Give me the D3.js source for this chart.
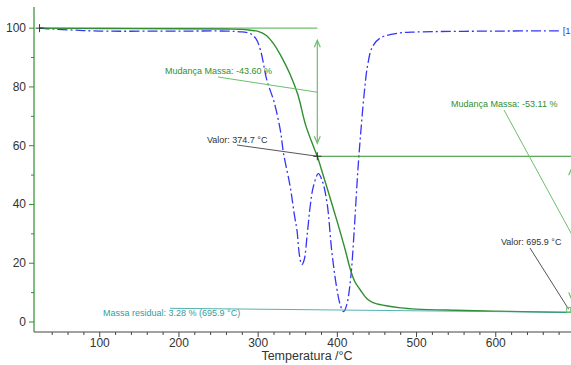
<!DOCTYPE html>
<html><head><meta charset="utf-8">
<script src="https://cdn.jsdelivr.net/npm/d3@7"></script>
<style>
body{margin:0;background:#fff;}
svg{display:block;font-family:"Liberation Sans",Arial,sans-serif;}
</style></head>
<body>
<svg id="c" width="571" height="365"></svg>
<script>
// ---- data ----
const tgTemps = [24,100,200,260,280,290,300,310,320,330,340,350,360,370,374.7,380,390,400,410,416,422,429,437,445,460,480,500,550,600,650,695.9];
const tgMass  = [100,99.9,99.8,99.7,99.6,99.3,98.9,97.6,94.5,90,84.5,77.5,67,59.6,56.4,51.8,43,34,24.5,18.3,13.8,10.9,8.0,6.6,5.6,4.8,4.4,4.0,3.7,3.45,3.28];
const dtgTemps = [24,40,70,100,200,260,280,290,297,303,311,320,328,332,340.5,346,349,352,355,358,362,366,369.6,376,381,387,393,399,404,408,412,417,421,426,430,434,438,444,454,477,500,600,682];
const dtgVals  = [100,99.7,99.3,99.0,99.0,99.0,98.7,98.2,96.5,92.5,82.3,75,65.3,57.5,46,36,31.3,23,19.5,21,30,40,46,50.5,48,40.5,24,12,5.5,3.5,6,15.4,30,52,66,78,87,93.5,96.6,98.3,98.7,99.0,99.1];
const xMajorTicks = [100,200,300,400,500,600];
const yMajorTicks = [0,20,40,60,80,100];
const step1 = {temp:374.7, from:100, to:56.4, change:"-43.60"};
const step2 = {temp:695.9, from:56.4, to:3.28, change:"-53.11"};
const residual = {mass:"3.28", temp:"695.9"};
const xTitle = "Temperatura /°C";

// ---- scales ----
const svg = d3.select("#c");
const x = d3.scaleLinear().domain([17,695]).range([34,571]);
const y = d3.scaleLinear().domain([-3.4,107.2]).range([332,7]);
const green = "#2f8f2f", lightGreen = "#6cbf6c", blue = "#3535f5", teal = "#2e9e9e", txt = "#333";

// ---- axes ----
const xMinor = d3.range(40,700,20);
const gx = svg.append("g").attr("transform","translate(0,332)");
gx.append("line").attr("x1",34).attr("x2",571).attr("stroke","#444");
gx.selectAll("line.t").data(xMinor).join("line").attr("class","t")
  .attr("x1",d=>x(d)).attr("x2",d=>x(d)).attr("y1",0).attr("y2",d=>d%100===0?5:3).attr("stroke","#444");
gx.selectAll("text").data(xMajorTicks).join("text")
  .attr("x",d=>x(d)).attr("y",14.5).attr("text-anchor","middle").attr("font-size",12).attr("fill",txt).text(d=>d);
svg.append("text").attr("x",307).attr("y",359.5).attr("text-anchor","middle").attr("font-size",12.5).attr("fill",txt).text(xTitle);

const yMinor = d3.range(0,101,10);
const gy = svg.append("g").attr("transform","translate(34,0)");
gy.append("line").attr("y1",7).attr("y2",332).attr("stroke",green).attr("stroke-width",1.2);
gy.selectAll("line.t").data(yMinor).join("line").attr("class","t")
  .attr("y1",d=>y(d)).attr("y2",d=>y(d)).attr("x1",0).attr("x2",d=>d%20===0?-5:-3).attr("stroke",green);
gy.selectAll("text").data(yMajorTicks).join("text")
  .attr("x",-8).attr("y",d=>y(d)+4).attr("text-anchor","end").attr("font-size",12).attr("fill",txt).text(d=>d);

// ---- curves ----
const line = d3.line().x(d=>x(d[0])).y(d=>y(d[1])).curve(d3.curveCatmullRom.alpha(0.5));
const dtg = dtgTemps.map((t,i)=>[t,dtgVals[i]]);
const tg = tgTemps.map((t,i)=>[t,tgMass[i]]);

// annotation: horizontal reference line at start mass
svg.append("line").attr("x1",x(tgTemps[0])).attr("x2",x(step1.temp)).attr("y1",y(step1.from)).attr("y2",y(step1.from))
  .attr("stroke",lightGreen).attr("stroke-width",1.2);

svg.append("path").attr("d",line(dtg)).attr("fill","none").attr("stroke",blue).attr("stroke-width",1.3)
  .attr("stroke-dasharray","10,3,2,3");
svg.append("text").attr("x",x(dtgTemps[dtgTemps.length-1])+2).attr("y",y(99.1)+3).attr("font-size",9.5).attr("fill",blue).text("[1]");

svg.append("path").attr("d",line(tg)).attr("fill","none").attr("stroke",green).attr("stroke-width",1.4);

svg.append("line").attr("x1",x(step1.temp)).attr("x2",571).attr("y1",y(step2.from)).attr("y2",y(step2.from))
  .attr("stroke",green).attr("stroke-width",1);

// vertical double arrows
function dArrow(step){
  const xx = x(step.temp), y1 = y(step.from)+12, y2 = y(step.to)-13;
  const g = svg.append("g").attr("stroke",lightGreen).attr("stroke-width",1.2).attr("fill","none");
  g.append("line").attr("x1",xx).attr("x2",xx).attr("y1",y1).attr("y2",y2);
  g.append("path").attr("d",`M${xx-3},${y1+7}L${xx},${y1}L${xx+3},${y1+7}`);
  g.append("path").attr("d",`M${xx-3},${y2-7}L${xx},${y2}L${xx+3},${y2-7}`);
  return (y(step.from)+y(step.to))/2;
}
const mid1 = dArrow(step1);
const mid2 = dArrow(step2);

// labels + leader lines
svg.append("line").attr("x1",218).attr("y1",77).attr("x2",x(step1.temp)).attr("y2",mid1).attr("stroke",lightGreen).attr("stroke-width",1);
svg.append("text").attr("x",165).attr("y",74).attr("font-size",9).attr("fill",green).text(`Mudança Massa: ${step1.change} %`);

svg.append("line").attr("x1",504).attr("y1",110).attr("x2",x(step2.temp)).attr("y2",mid2).attr("stroke",lightGreen).attr("stroke-width",1);
svg.append("text").attr("x",451).attr("y",107).attr("font-size",9).attr("fill",green).text(`Mudança Massa: ${step2.change} %`);

svg.append("line").attr("x1",237).attr("y1",145).attr("x2",x(step1.temp)).attr("y2",y(step2.from)).attr("stroke","#555").attr("stroke-width",1);
svg.append("text").attr("x",207).attr("y",143).attr("font-size",9).attr("fill",txt).text(`Valor: ${step1.temp} °C`);

svg.append("line").attr("x1",530).attr("y1",248).attr("x2",x(step2.temp)-3).attr("y2",y(step2.to)-3).attr("stroke","#555").attr("stroke-width",1);
svg.append("text").attr("x",501).attr("y",245).attr("font-size",9).attr("fill",txt).text(`Valor: ${step2.temp} °C`);

svg.append("line").attr("x1",170).attr("y1",308.3).attr("x2",x(step2.temp)).attr("y2",y(step2.to)).attr("stroke",teal).attr("stroke-width",1).attr("opacity",0.8);
svg.append("text").attr("x",103).attr("y",316).attr("font-size",9).attr("fill",teal).text(`Massa residual: ${residual.mass} % (${residual.temp} °C)`);

// cross markers
function cross(t,v){
  const cx=x(t), cy=y(v);
  svg.append("path").attr("d",`M${cx-4},${cy}H${cx+4}M${cx},${cy-4}V${cy+4}`).attr("stroke","#333").attr("stroke-width",1);
}
cross(tgTemps[0],100);
cross(step1.temp,step2.from);
svg.append("rect").attr("x",x(step2.temp)-5).attr("y",y(step2.to)-5).attr("width",4).attr("height",5).attr("fill","none").attr("stroke",lightGreen);
</script>
</body></html>
